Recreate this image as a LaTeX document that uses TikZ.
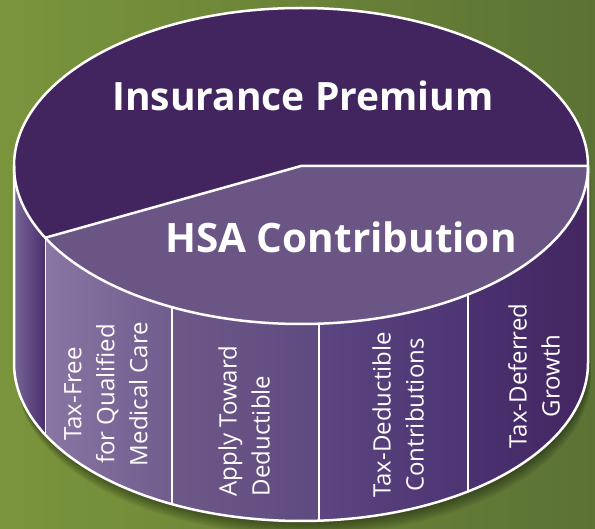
\documentclass[tikz,border=0pt]{standalone}
\usepackage{fontspec}
\setmainfont{Open Sans}
\usetikzlibrary{shadings, calc}
\usetikzlibrary{positioning}
\usepackage{color}

\definecolor{grassL}{RGB}{122,149,60}
\definecolor{grassR}{RGB}{91,114,52}
\definecolor{premium}{RGB}{66,36,94}
\definecolor{hsa}{RGB}{107,85,133}
\definecolor{stripL}{RGB}{126,108,156}
\definecolor{stripR}{RGB}{73,46,107}
\definecolor{sideAL}{RGB}{138,118,164}
\definecolor{sideAR}{RGB}{112,92,141}
\definecolor{sideBL}{RGB}{110,88,136}
\definecolor{sideBR}{RGB}{95,74,128}
\definecolor{sideCL}{RGB}{92,69,128}
\definecolor{sideCR}{RGB}{77,52,115}
\definecolor{sideDL}{RGB}{75,49,113}
\definecolor{sideDR}{RGB}{67,38,96}

\tikzset{
  rim/.style={white,line width=2.5pt},
  seam/.style={white,line width=1.3pt},
  big label/.style={text=white,font=\fontsize{39}{41}\selectfont\bfseries,inner sep=0pt},
  side label/.style={text=white,font=\fontsize{24}{33}\selectfont,align=center,rotate=90,inner sep=0pt}
}

\begin{document}
\begin{tikzpicture}[x=1pt,y=-1pt]
\useasboundingbox (0,0) rectangle (595,529);
%------------------------------
% background
%______________________________
\shade[left color=grassL,right color=grassR] (0,0) rectangle (595,529);
%
\foreach \i in {1,...,12} {
    \fill[black,opacity=0.04,shift={(0.25*\i,1.2*\i)}] (14,166) -- (14,363)
        arc[start angle=180,end angle=0,x radius=287,y radius=158] -- (588,166) -- cycle;
}
%------------------------------
% side of the cylinder
%______________________________
\path (301,166) ++(153:287 and 158) coordinate (hsaEdge);
\begin{scope}
\clip (14,166) -- (14,363) arc[start angle=180,end angle=0,x radius=287,y radius=158]
    -- (588,166) arc[start angle=0,end angle=180,x radius=287,y radius=158] -- cycle;
\foreach \a/\b/\cl/\cr in {10/46/stripL/stripR, 46/172/sideAL/sideAR, 172/319/sideBL/sideBR,
    319/468/sideCL/sideCR, 468/592/sideDL/sideDR} {
    \shade[left color=\cl,right color=\cr] (\a,150) rectangle (\b,530);
}
\draw[seam] (hsaEdge) -- (hsaEdge |- 0,530);
\foreach \x in {172,319,468} {
    \draw[seam] (\x,150) -- (\x,530);
}
\end{scope}
%------------------------------
% top of the cylinder
%______________________________
\fill[premium] (301,166) ellipse [x radius=287,y radius=158];
\fill[hsa] (301,166) -- (588,166) arc[start angle=0,end angle=153,x radius=287,y radius=158] -- cycle;
%
\draw[rim] (301,166) ellipse [x radius=287,y radius=158];
\draw[rim] (hsaEdge) -- (301,166) -- (588,166);
\draw[rim] (14,166) -- (14,363) arc[start angle=180,end angle=0,x radius=287,y radius=158] -- (588,166);
%
\node[big label,anchor=base] (premiumText) at (303,111) {Insurance Premium};
\node[big label,anchor=base,font=\fontsize{40.5}{42}\selectfont\bfseries] (hsaText) at (341,253) {HSA Contribution};
%
\node[side label] (taxFree) at (106,394) {Tax-Free\\for Qualified\\Medical Care};
\node[side label,align=left] (toward) at (244,421) {Apply Toward\\Deductible};
\node[side label] (deduct) at (398,415) {Tax-Deductible\\Contributions};
\node[side label] (deferred) at (534,376) {Tax-Deferred\\Growth};
\end{tikzpicture}
\end{document}
